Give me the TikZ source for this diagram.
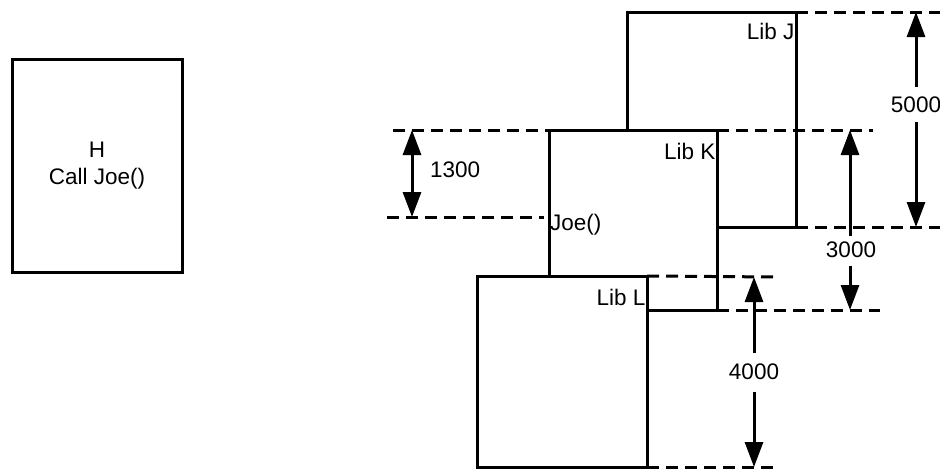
\documentclass[tikz,border=0pt]{standalone}
\usepackage{fontspec}
\setmainfont{Liberation Sans}
\usetikzlibrary{arrows.meta}
\begin{document}
\begin{tikzpicture}[x=1pt,y=-1pt,
  box/.style={draw,fill=white,line width=3pt,inner sep=0pt,outer sep=0pt},
  guide/.style={line width=3pt,dash pattern=on 12pt off 7pt},
  dim/.style={line width=3pt,-{Triangle[width=18pt,length=25pt]}},
  dimboth/.style={line width=3pt,{Triangle[width=18pt,length=25pt]}-{Triangle[width=18pt,length=25pt]}},
  lbl/.style={font=\fontsize{22.5}{27}\selectfont,inner sep=0pt}]
\useasboundingbox (0,0) rectangle (940,472);
% left box
\node[box,minimum width=170pt,minimum height=213pt,align=center,
      font=\fontsize{22.5}{27}\selectfont] (H) at (97,165.5) {H\\Call Joe()};
% library boxes
\node[box,minimum width=169pt,minimum height=215pt] (J) at (711.5,119.5) {};
\node[box,minimum width=168pt,minimum height=180pt] (K) at (633,220) {};
\node[box,minimum width=170pt,minimum height=191pt] (L) at (562,371.5) {};
% labels in boxes
\node[lbl,anchor=east] (libJ) at ([xshift=-1.5pt,yshift=-19pt]J.north east) {Lib J};
\node[lbl,anchor=east] (libK) at ([xshift=-1.5pt,yshift=-21pt]K.north east) {Lib K};
\node[lbl,anchor=east] (libL) at ([xshift=-1.5pt,yshift=-21pt]L.north east) {Lib L};
\node[lbl,anchor=west] (joe) at (550,225) {Joe()};
% guide lines
\coordinate (g12) at (940,12);
\coordinate (g130a) at (393,130);
\coordinate (g130b) at (873,130);
\coordinate (g217) at (387,217);
\coordinate (g217b) at (544,217);
\coordinate (g227) at (940,227);
\coordinate (g277) at (778,277);
\coordinate (g310) at (880,310);
\coordinate (g467) at (778,467);
\draw[guide] (J.north east) -- (g12);
\draw[guide] (g130a) -- (K.north west);
\draw[guide] (K.north east) -- (g130b);
\draw[guide] (g217) -- (g217b);
\draw[guide] (J.south east) -- (g227);
\draw[guide] (L.north east) -- (g277);
\draw[guide] (K.south east) -- (g310);
\draw[guide] (L.south east) -- (g467);
% dimensions
\draw[dimboth] (412,130) -- (412,217);
\node[lbl,anchor=west] (d1300) at (430,170) {1300};
\node[lbl] (d5000) at (916,105) {5000};
\draw[dim] (916,87) -- (916,12);
\draw[dim] (916,122) -- (916,227);
\node[lbl] (d3000) at (851,250) {3000};
\draw[dim] (850,236) -- (850,130);
\draw[dim] (850,266) -- (850,310);
\node[lbl] (d4000) at (754,372) {4000};
\draw[dim] (754,353) -- (754,277);
\draw[dim] (754,392) -- (754,467);
\end{tikzpicture}
\end{document}
